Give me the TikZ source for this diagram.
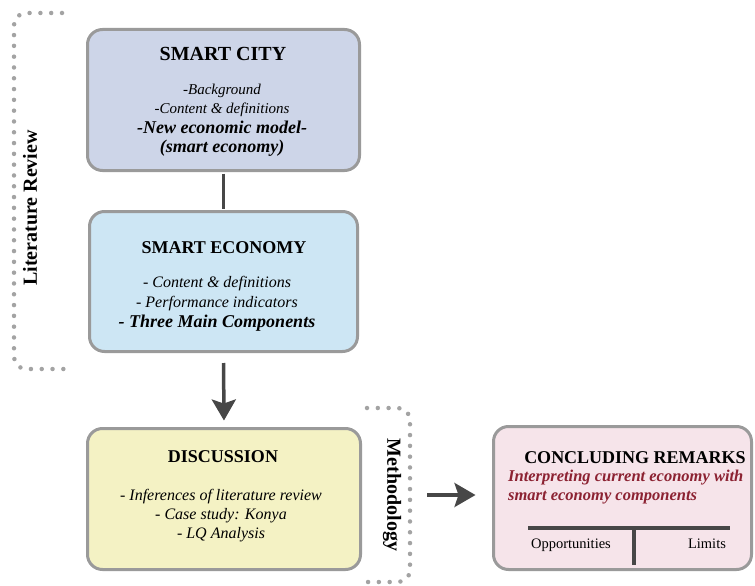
\documentclass[tikz,border=0pt]{standalone}
\usepackage{fontspec}
\setmainfont{Liberation Serif}
\usetikzlibrary{arrows.meta}
\definecolor{cityfill}{HTML}{CDD5E8}
\definecolor{econfill}{HTML}{CDE6F4}
\definecolor{discfill}{HTML}{F4F2C4}
\definecolor{conclfill}{HTML}{F6E4EA}
\definecolor{boxgray}{HTML}{9A9A9A}
\definecolor{conngray}{HTML}{474747}
\definecolor{dotgray}{HTML}{A3A3A3}
\definecolor{darkred}{HTML}{8C2232}
\begin{document}
\begin{tikzpicture}[x=1pt,y=-1pt,
  box/.style={draw=boxgray, line width=3pt, rounded corners=15pt, inner sep=0pt},
  titletext/.style={anchor=base, font=\fontsize{18}{21}\selectfont\bfseries},
  bodytext/.style={anchor=base, font=\fontsize{16}{19}\selectfont\itshape},
  boldbody/.style={anchor=base, font=\fontsize{18}{21}\selectfont\bfseries\itshape},
  redtext/.style={anchor=base west, inner sep=0pt, text=darkred, font=\fontsize{16.5}{19}\selectfont\bfseries\itshape},
  plaintext/.style={anchor=base, font=\fontsize{14.5}{17}\selectfont},
  sidelabel/.style={font=\fontsize{20}{24}\selectfont\bfseries},
  connector/.style={draw=conngray, line width=3.5pt},
  arrowline/.style={draw=conngray, line width=3.5pt, -{Stealth[length=21pt,width=24pt,inset=4pt]}},
  dotline/.style={draw=dotgray, line width=4.5pt, line cap=round, dash pattern=on 0pt off 10.8pt, rounded corners=12pt}
]
\useasboundingbox (0,0) rectangle (755,586);

% boxes
\node[box, fill=cityfill, minimum width=272pt, minimum height=141pt] (city) at (223.5,100) {};
\node[box, fill=econfill, minimum width=268pt, minimum height=140pt] (econ) at (223.5,281.5) {};
\node[box, fill=discfill, minimum width=273pt, minimum height=141pt] (disc) at (224,499) {};
\node[box, fill=conclfill, minimum width=258pt, minimum height=143pt] (concl) at (622.5,498) {};

% smart city texts
\node[titletext, font=\fontsize{20}{24}\selectfont\bfseries] (cityT) at (223,60) {SMART CITY};
\node[bodytext, font=\fontsize{15}{18}\selectfont\itshape] (cityA) at (222,94) {-Background};
\node[bodytext, font=\fontsize{15}{18}\selectfont\itshape] (cityB) at (222,113) {-Content \& definitions};
\node[boldbody] (cityC) at (222,133) {-New economic model-};
\node[boldbody] (cityD) at (222,152) {(smart economy)};

% smart economy texts
\node[titletext] (econT) at (224,253) {SMART ECONOMY};
\node[bodytext] (econA) at (217,287) {- Content \& definitions};
\node[bodytext] (econB) at (217,307) {- Performance indicators};
\node[boldbody] (econC) at (217,327) {- Three Main Components};

% discussion texts
\node[titletext] (discT) at (223,462) {DISCUSSION};
\node[bodytext] (discA) at (221,500) {- Inferences of literature review};
\node[bodytext] (discB) at (221,519) {- Case study: Konya};
\node[bodytext] (discC) at (221,538) {- LQ Analysis};

% concluding texts
\node[titletext] (conclT) at (635,463) {CONCLUDING REMARKS};
\node[redtext] (conclA) at (508,481) {Interpreting current economy with};
\node[redtext] (conclB) at (508,500) {smart economy components};
\coordinate (tl) at (528,528);
\coordinate (tr) at (730,528);
\coordinate (tm) at (634,528);
\coordinate (tb) at (634,565);
\draw[connector, line width=4.5pt] (tl) -- (tr);
\draw[connector, line width=4.5pt] (tm) -- (tb);
\node[plaintext] (opp) at (571,548) {Opportunities};
\node[plaintext] (lim) at (707,548) {Limits};

% connectors
\draw[connector, shorten <=1.5pt, shorten >=1.5pt] (city.south) -- (econ.north);
\draw[arrowline, shorten <=10pt, shorten >=6.5pt] (econ.south) -- (disc.north);
\coordinate (a3) at (427,495);
\draw[arrowline, shorten >=16.5pt] (a3) -- (concl.west |- a3);

% side brackets
\draw[dotline] (62,13) -- (14,13) -- (14,369) -- (67,369);
\draw[dotline] (367,408) -- (410,408) -- (410,582) -- (367,582);
\node[sidelabel, rotate=90] (litrev) at (30,208) {Literature Review};
\node[sidelabel, rotate=-90] (meth) at (392,495) {Methodology};
\end{tikzpicture}
\end{document}
